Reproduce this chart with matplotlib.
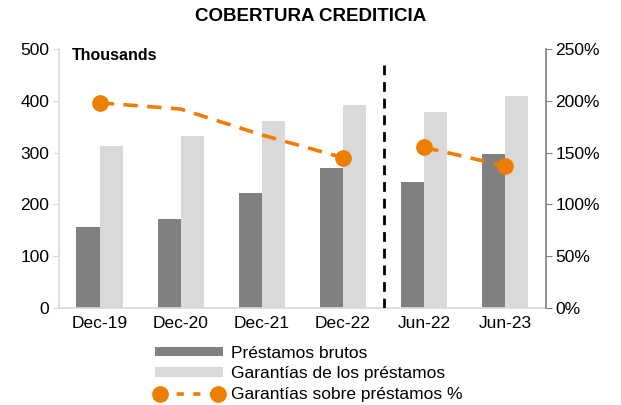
import matplotlib.pyplot as plt
import numpy as np

plt.rcParams['font.family'] = ['Liberation Sans', 'DejaVu Sans']

categories = ['Dec-19', 'Dec-20', 'Dec-21', 'Dec-22', 'Jun-22', 'Jun-23']
prestamos = [157, 172, 221, 270, 243, 298]
garantias = [313, 332, 361, 391, 378, 409]
# coverage %, split in two runs (annual / semiannual)
cobertura_anual = [198, 192, 167, 145]
cobertura_sem = [155, 137]
con_marcador = [0, 3]

DARK = '#808080'
LIGHT = '#D9D9D9'
ORANGE = '#EF7D00'

fig = plt.figure(figsize=(6.21, 4.05), dpi=100)
ax = fig.add_axes([0.095, 0.240, 0.784, 0.639])
ax2 = ax.twinx()

x = np.arange(len(categories))
w = 0.285
ax.bar(x - w / 2, prestamos, w, color=DARK, label='Préstamos brutos', zorder=2)
ax.bar(x + w / 2, garantias, w, color=LIGHT, label='Garantías de los préstamos', zorder=2)

ax.set_xlim(-0.5, len(categories) - 0.5)
ax.set_ylim(0, 500)
ax.set_yticks(range(0, 501, 100))
ax.set_xticks(x)
ax.set_xticklabels(categories)
ax.tick_params(axis='x', length=0, labelsize=12.5, pad=6)
ax.tick_params(axis='y', length=4, color=LIGHT, labelsize=12.5, pad=3)
for s in ['top', 'right']:
    ax.spines[s].set_visible(False)
ax.spines['left'].set_color(LIGHT)
ax.spines['bottom'].set_color(LIGHT)
ax.spines['left'].set_linewidth(1.2)
ax.spines['bottom'].set_linewidth(1.2)

ax.text(0.027, 0.975, 'Thousands', transform=ax.transAxes, fontsize=11.5,
        fontweight='bold', va='center')

# separator between annual and semiannual data
ax.plot([3.5, 3.5], [0, 475], color='black', lw=2, ls=(0, (3.5, 2.5)), zorder=3)

dash = (0, (4.0, 2.6))
line, = ax2.plot(x[:4], cobertura_anual, color=ORANGE, lw=2.6, ls=dash,
                 marker='o', markersize=11, markevery=con_marcador,
                 label='Garantías sobre préstamos %', zorder=4)
ax2.plot(x[4:], cobertura_sem, color=ORANGE, lw=2.6, ls=dash,
         marker='o', markersize=11, zorder=4)

ax2.set_ylim(0, 250)
ax2.set_yticks(range(0, 251, 50))
ax2.set_yticklabels(['{}%'.format(v) for v in range(0, 251, 50)])
ax2.tick_params(axis='y', length=4, color='#7F7F7F', labelsize=12.5, pad=3)
for s in ['top', 'left', 'bottom']:
    ax2.spines[s].set_visible(False)
ax2.spines['right'].set_color('#7F7F7F')
ax2.spines['right'].set_linewidth(1.2)

fig.suptitle('COBERTURA CREDITICIA', x=0.5, y=0.98, fontsize=13.5, fontweight='bold')

handles, labels = ax.get_legend_handles_labels()
leg_line = plt.Line2D([], [], color=ORANGE, lw=2.6, ls=(0, (2.0, 2.6)), marker='o', markersize=11)
handles.append(leg_line)
labels.append('Garantías sobre préstamos %')
fig.legend(handles, labels, loc='upper left', bbox_to_anchor=(0.236, 0.168),
           frameon=False, fontsize=12.5, handlelength=3.9, handleheight=0.5,
           handletextpad=0.45, labelspacing=0.33, borderpad=0, numpoints=2)

plt.savefig('out.png', dpi=100)
plt.close()
